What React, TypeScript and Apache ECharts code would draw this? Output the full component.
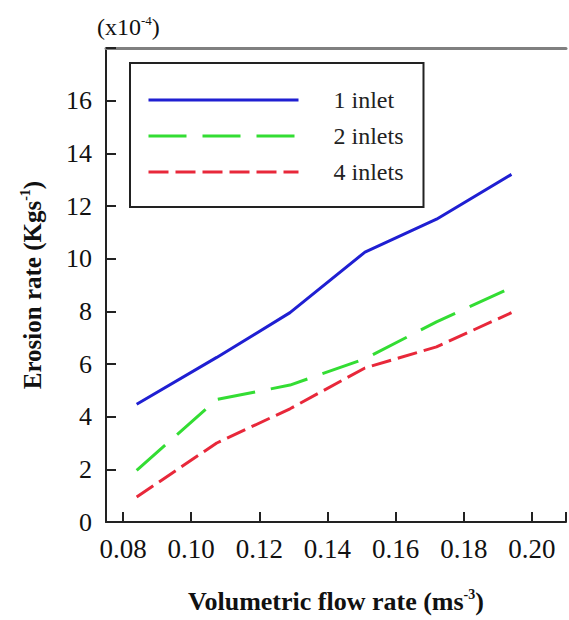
import React, { useEffect, useRef } from "react";
import * as echarts from "echarts";

const flowRates = [0.084, 0.1075, 0.129, 0.151, 0.172, 0.194];
const inlet1 = [4.47, 6.25, 7.95, 10.25, 11.5, 13.2];
const inlet2 = [1.96, 4.65, 5.2, 6.2, 7.6, 8.9];
const inlet4 = [0.95, 3.0, 4.3, 5.85, 6.65, 7.95];
const seriesNames = ["1 inlet", "2 inlets", "4 inlets"];
const xTickLabels = ["0.08", "0.10", "0.12", "0.14", "0.16", "0.18", "0.20"];
const yTickLabels = ["0", "2", "4", "6", "8", "10", "12", "14", "16"];

const SERIF = "Liberation Serif";

export default function App() {
  const ref = useRef<HTMLDivElement>(null);

  useEffect(() => {
    document.body.style.margin = "0";
    if (!ref.current) return;
    const chart = echarts.init(ref.current, undefined, { renderer: "svg" });

    const pair = (vals: number[]) => flowRates.map((x, i) => [x, vals[i]]);

    const option: any = {
      animation: false,
      backgroundColor: "#fff",
      textStyle: { fontFamily: SERIF },
      grid: { left: 106, right: -12, top: 48, bottom: 98, containLabel: false },
      legend: {
        orient: "vertical",
        left: 130,
        top: 63,
        padding: [24, 20, 22, 17],
        itemGap: 10,
        itemWidth: 150,
        itemHeight: 14,
        backgroundColor: "#fff",
        borderColor: "#222",
        borderWidth: 2,
        borderRadius: 0,
        data: seriesNames,
        itemStyle: { opacity: 0 },
        lineStyle: { width: 3 },
        textStyle: {
          fontFamily: SERIF,
          fontSize: 24,
          color: "#222",
          lineHeight: 26,
          padding: [0, 0, 0, 30],
        },
      },
      xAxis: [
        {
          type: "value",
          min: 0.075,
          max: 0.21,
          splitNumber: 7,
          splitLine: { show: false },
          axisLine: { lineStyle: { color: "#222", width: 2 } },
          axisTick: { inside: true, length: 10, lineStyle: { color: "#222", width: 2 } },
          axisLabel: {
            fontFamily: SERIF,
            fontSize: 27,
            color: "#111",
            margin: 13,
            showMinLabel: false,
            formatter: (v: number) => {
              const lbl = v.toFixed(2);
              return xTickLabels.includes(lbl) && Math.abs(v - Number(lbl)) < 1e-6 ? lbl : "";
            },
          },
          name: "{b|Volumetric flow rate (ms}{s|-3}{b|)}",
          nameLocation: "middle",
          nameGap: 65,
          nameTextStyle: {
            rich: {
              b: { fontFamily: SERIF, fontSize: 26, fontWeight: "bold", color: "#111", lineHeight: 28 },
              s: { fontFamily: SERIF, fontSize: 14, fontWeight: "bold", color: "#111", verticalAlign: "top", lineHeight: 28, padding: [0, 0, 10, 0] },
            },
          },
        },
        {
          type: "value",
          position: "top",
          min: 0.075,
          max: 0.21,
          splitLine: { show: false },
          axisLine: { show: true, lineStyle: { color: "#808080", width: 3 } },
          axisTick: { show: false },
          axisLabel: { show: false },
        },
      ],
      yAxis: {
        type: "value",
        min: 0,
        max: 18,
        interval: 2,
        splitLine: { show: false },
        axisLine: { show: true, lineStyle: { color: "#222", width: 2 } },
        axisTick: { inside: true, length: 10, lineStyle: { color: "#222", width: 2 } },
        axisLabel: {
          fontFamily: SERIF,
          fontSize: 26,
          color: "#111",
          margin: 14,
          formatter: (v: number) => (yTickLabels.includes(String(v)) ? String(v) : ""),
        },
        name: "{b|Erosion rate (Kgs}{s|-1}{b|)}",
        nameLocation: "middle",
        nameGap: 60,
        nameTextStyle: {
          rich: {
            b: { fontFamily: SERIF, fontSize: 25, fontWeight: "bold", color: "#111", lineHeight: 28 },
            s: { fontFamily: SERIF, fontSize: 14, fontWeight: "bold", color: "#111", verticalAlign: "top", lineHeight: 28, padding: [0, 0, 10, 0] },
          },
        },
      },
      graphic: [
        {
          type: "text",
          left: 97,
          top: 14,
          style: {
            text: "{r|(x10}{s|-4}{r|)}",
            rich: {
              r: { fontFamily: SERIF, fontSize: 24, fill: "#111", lineHeight: 26 },
              s: { fontFamily: SERIF, fontSize: 13, fill: "#111", verticalAlign: "top", lineHeight: 26 },
            },
          },
        },
      ],
      series: [
        {
          name: seriesNames[0],
          type: "line",
          symbol: "none",
          data: pair(inlet1),
          color: "#1f1fd2",
          lineStyle: { color: "#1f1fd2", width: 3, type: "solid" },
        },
        {
          name: seriesNames[1],
          type: "line",
          symbol: "none",
          data: pair(inlet2),
          color: "#33dd33",
          lineStyle: { color: "#33dd33", width: 3, type: [38, 16] },
        },
        {
          name: seriesNames[2],
          type: "line",
          symbol: "none",
          data: pair(inlet4),
          color: "#e8283a",
          lineStyle: { color: "#e8283a", width: 3, type: [20, 7] },
        },
      ],
    };

    chart.setOption(option);
    return () => chart.dispose();
  }, []);

  return <div ref={ref} style={{ width: 569, height: 620, overflow: "hidden" }} />;
}
